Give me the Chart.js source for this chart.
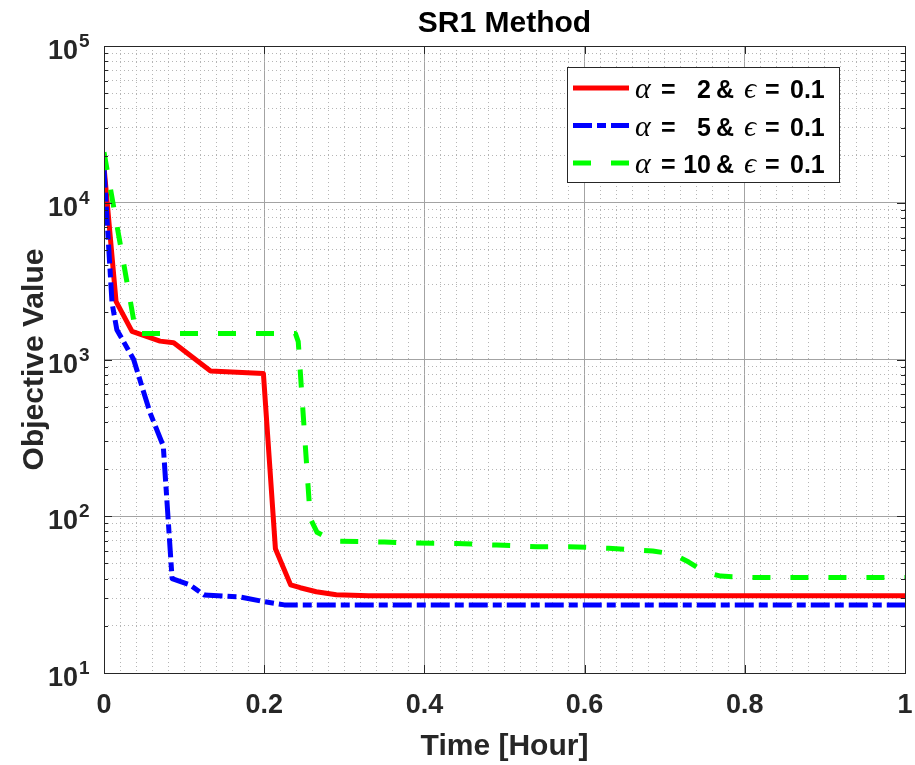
<!DOCTYPE html>
<html lang="en">
<head>
  <meta charset="UTF-8">
  <title>SR1 Method</title>
  <script src="https://cdn.jsdelivr.net/npm/chart.js@4.4.1/dist/chart.umd.min.js"></script>
  <style>
    html, body { margin: 0; padding: 0; background: #fff; }
  </style>
</head>
<body>
  <canvas id="chart" width="915" height="765"></canvas>
  <script>
    // time [hour] / objective value for each run
    const redT = [0, 0.015, 0.035, 0.07, 0.087, 0.133, 0.199, 0.214, 0.233, 0.245, 0.265, 0.29, 0.33, 1.0];
    const redV = [17000, 2350, 1510, 1310, 1280, 845, 815, 62, 36.5, 35, 33, 31.6, 31.1, 31.1];

    const blueT = [0, 0.01, 0.016, 0.037, 0.0575, 0.074, 0.085, 0.107, 0.125, 0.17, 0.2, 0.225, 1.0];
    const blueV = [16500, 2300, 1550, 1000, 457, 281, 40, 36.5, 31.5, 30.5, 28.5, 27.2, 27.2];

    const greenT = [0, 0.04, 0.239, 0.2425, 0.2575, 0.266, 0.287, 0.35, 0.39, 0.44, 0.49, 0.54, 0.58, 0.63, 0.685, 0.71, 0.73, 0.75, 0.77, 0.8, 1.0];
    const greenV = [21000, 1466, 1466, 1300, 97, 79, 69.5, 68.5, 67.5, 67, 65.5, 64, 64, 62.5, 60, 57.5, 51, 44, 41.5, 40.7, 40.7];

    const alphas = ['2', '5', '10'];
    const epsilons = ['0.1', '0.1', '0.1'];
    const xMajor = [0, 0.2, 0.4, 0.6, 0.8, 1];
    const xLabels = ['0', '0.2', '0.4', '0.6', '0.8', '1'];
    const yDecades = [1, 2, 3, 4, 5];

    const sans = '"Liberation Sans", Arial, Helvetica, sans-serif';
    const serif = '"Liberation Serif", "Times New Roman", serif';
    const axisColor = '#262626';

    const toPoints = (ts, vs) => ts.map((t, i) => ({ x: t, y: vs[i] }));

    const series = [
      { color: '#ff0000', dash: [], t: redT, v: redV, order: 3 },
      { color: '#0000ff', dash: [19, 5, 9, 5], t: blueT, v: blueV, order: 2 },
      { color: '#00ff00', dash: [18, 20], t: greenT, v: greenV, order: 1 },
    ];

    const isMajorX = (v) => xMajor.some((m) => Math.abs(m - v) < 1e-6);

    // title, tick labels (10^n), legend with greek symbols, box + inward ticks
    const matlabLook = {
      id: 'matlabLook',
      afterDraw(chart) {
        const { ctx, chartArea: a, scales } = chart;
        const y = scales.y, x = scales.x;
        ctx.save();

        // inward tick marks
        ctx.strokeStyle = axisColor;
        ctx.lineWidth = 1;
        ctx.beginPath();
        y.ticks.forEach((tk) => {
          const py = Math.round(y.getPixelForValue(tk.value)) + 0.5;
          const len = tk.major ? 8 : 4;
          ctx.moveTo(a.left, py); ctx.lineTo(a.left + len, py);
          ctx.moveTo(a.right, py); ctx.lineTo(a.right - len, py);
        });
        xMajor.forEach((v) => {
          const px = Math.round(x.getPixelForValue(v)) + 0.5;
          ctx.moveTo(px, a.bottom); ctx.lineTo(px, a.bottom - 8);
          ctx.moveTo(px, a.top); ctx.lineTo(px, a.top + 8);
        });
        ctx.stroke();

        // axes box
        ctx.strokeRect(Math.round(a.left) + 0.5, Math.round(a.top) + 0.5,
          Math.round(a.right - a.left), Math.round(a.bottom - a.top));

        // title
        ctx.fillStyle = '#000';
        ctx.font = 'bold 30px ' + sans;
        ctx.textAlign = 'center';
        ctx.textBaseline = 'middle';
        ctx.fillText('SR1 Method', (a.left + a.right) / 2, 24);

        // x tick labels
        ctx.fillStyle = axisColor;
        ctx.font = 'bold 27px ' + sans;
        xMajor.forEach((v, i) => {
          ctx.fillText(xLabels[i], x.getPixelForValue(v), a.bottom + 33);
        });

        // y tick labels
        yDecades.forEach((k) => {
          const py = y.getPixelForValue(Math.pow(10, k));
          ctx.font = 'bold 27px ' + sans;
          ctx.textAlign = 'right';
          ctx.textBaseline = 'alphabetic';
          ctx.fillText('10', a.left - 26, py + 13);
          ctx.font = 'bold 19px ' + sans;
          ctx.textAlign = 'left';
          ctx.fillText(String(k), a.left - 25, py + 1);
        });

        // legend
        const bx = 567, by = 67, bw = 272, bh = 115;
        ctx.fillStyle = '#fff';
        ctx.fillRect(bx, by, bw, bh);
        ctx.strokeStyle = axisColor;
        ctx.strokeRect(bx + 0.5, by + 0.5, bw, bh);
        series.forEach((s, i) => {
          const ry = by + 21 + i * 37.5;
          ctx.strokeStyle = s.color;
          ctx.lineWidth = 5;
          ctx.lineCap = 'butt';
          ctx.setLineDash(s.dash);
          ctx.beginPath();
          ctx.moveTo(bx + 6, ry); ctx.lineTo(bx + 62, ry);
          ctx.stroke();
          ctx.setLineDash([]);

          const base = ry + 10;
          ctx.fillStyle = '#000';
          ctx.textBaseline = 'alphabetic';
          ctx.textAlign = 'left';
          ctx.font = 'italic 30px ' + serif;
          ctx.fillText('\u03b1', bx + 68, base);
          ctx.font = 'bold 25px ' + sans;
          ctx.fillText('=', bx + 94, base);
          ctx.textAlign = 'right';
          ctx.fillText(alphas[i], bx + 144, base);
          ctx.textAlign = 'left';
          ctx.fillText('&', bx + 149, base);
          ctx.font = 'italic 30px ' + serif;
          ctx.fillText('\u03f5', bx + 177, base);
          ctx.font = 'bold 25px ' + sans;
          ctx.fillText('=', bx + 198, base);
          ctx.fillText(epsilons[i], bx + 223, base);
        });
        ctx.restore();
      }
    };

    const gridColor = (c) => (c.tick && c.tick.major ? '#a3a3a3' : '#b5b5b5');
    const gridDash = (c) => (c.tick && !c.tick.major ? [1, 3] : []);

    new Chart(document.getElementById('chart'), {
      type: 'line',
      data: {
        datasets: series.map((s, i) => ({
          label: 'series ' + (i + 1),
          data: toPoints(s.t, s.v),
          borderColor: s.color,
          borderWidth: 5,
          borderDash: s.dash,
          borderCapStyle: 'butt',
          borderJoinStyle: 'round',
          pointRadius: 0,
          tension: 0,
          fill: false,
          order: s.order,
        })),
      },
      options: {
        responsive: false,
        animation: false,
        layout: { padding: { left: 0, right: 10, top: 46, bottom: 0 } },
        plugins: {
          legend: { display: false },
          tooltip: { enabled: false },
          title: { display: false },
        },
        scales: {
          x: {
            type: 'linear',
            min: 0,
            max: 1,
            afterBuildTicks: (scale) => {
              const ticks = [];
              for (let i = 0; i <= 50; i++) {
                const v = i / 50;
                ticks.push({ value: v, major: isMajorX(v) });
              }
              scale.ticks = ticks;
            },
            ticks: { display: false },
            grid: { drawTicks: false, color: gridColor, lineWidth: 1 },
            border: { display: false, dash: gridDash },
            title: {
              display: true,
              text: 'Time [Hour]',
              color: axisColor,
              font: { family: sans, size: 30, weight: 'bold' },
              padding: { top: 56, bottom: 0 },
            },
          },
          y: {
            type: 'logarithmic',
            min: 10,
            max: 100000,
            afterBuildTicks: (scale) => {
              const ticks = [];
              yDecades.forEach((k) => {
                const p = Math.pow(10, k);
                ticks.push({ value: p, major: true });
                if (k < 5) {
                  for (let m = 2; m <= 9; m++) ticks.push({ value: m * p, major: false });
                }
              });
              scale.ticks = ticks;
            },
            ticks: { display: false },
            grid: { drawTicks: false, color: gridColor, lineWidth: 1 },
            border: { display: false, dash: gridDash },
            title: {
              display: true,
              text: 'Objective Value',
              color: axisColor,
              font: { family: sans, size: 30, weight: 'bold' },
              padding: { top: 17, bottom: 51 },
            },
          },
        },
      },
      plugins: [matlabLook],
    });
  </script>
</body>
</html>
